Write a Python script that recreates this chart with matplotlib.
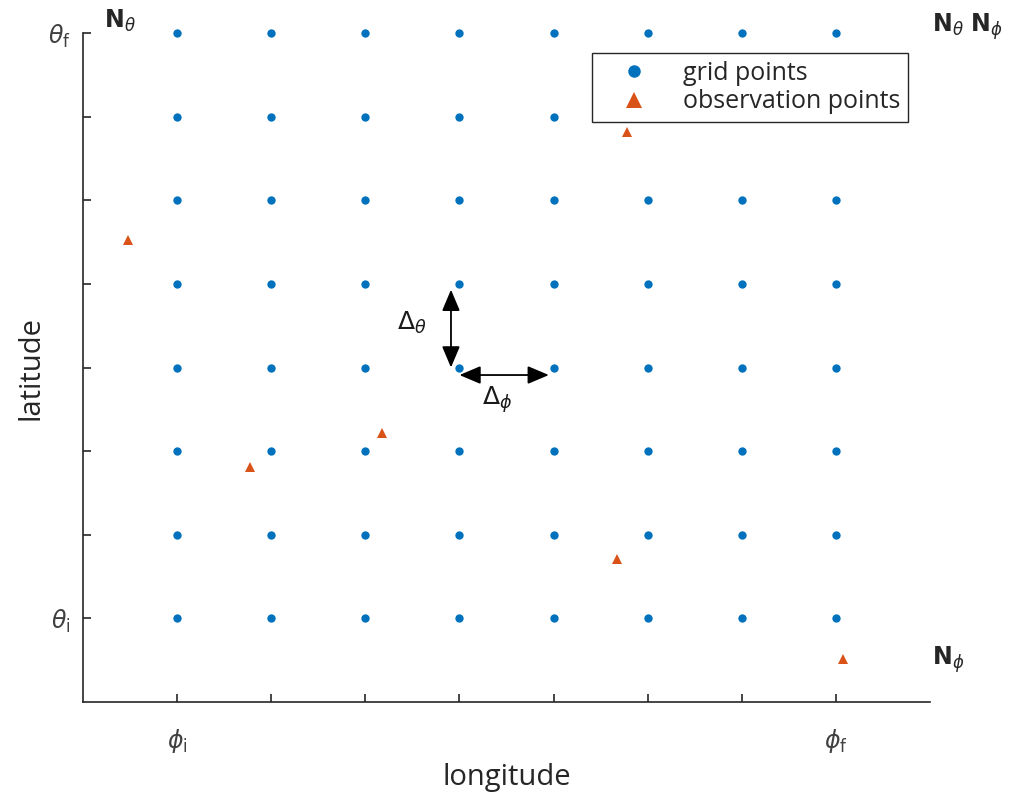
import matplotlib
matplotlib.use("Agg")
import matplotlib.pyplot as plt
import numpy as np

plt.rcParams['mathtext.fontset'] = 'dejavusans'
plt.rcParams['font.family'] = ['Open Sans', 'DejaVu Sans']

# Data
grid_lon = [1, 2, 3, 4, 5, 6, 7, 8]
grid_lat = [1, 2, 3, 4, 5, 6, 7, 8]
obs_lon = [0.48, 1.77, 3.18, 5.78, 5.67, 8.08]
obs_lat = [5.53, 2.81, 3.22, 6.82, 1.71, 0.51]
xtick_labels = [r'$\phi_\mathrm{i}$', '', '', '', '', '', '', r'$\phi_\mathrm{f}$']
ytick_labels = [r'$\theta_\mathrm{i}$', '', '', '', '', '', '', r'$\theta_\mathrm{f}$']

blue = '#0072BD'
orange = '#D95319'
axcol = '#262626'

fig = plt.figure(figsize=(10.11, 7.97), dpi=100)
ax = fig.add_axes([83/1011, 1-702/797, (930-83)/1011, (702-33)/797])

G_lon, G_lat = np.meshgrid(grid_lon, grid_lat)
ax.plot(G_lon.ravel(), G_lat.ravel(), 'o', color=blue, markersize=6,
        markeredgewidth=0, linestyle='none', label='grid points', clip_on=False)
ax.plot(obs_lon, obs_lat, '^', color=orange, markersize=7.5,
        markeredgewidth=0, linestyle='none', label='observation points', clip_on=False)

ax.set_xlim(0, 9)
ax.set_ylim(0, 8)
ax.set_xticks(grid_lon)
ax.set_xticklabels(xtick_labels)
ax.set_yticks(grid_lat)
ax.set_yticklabels(ytick_labels)
for s in ['top', 'right']:
    ax.spines[s].set_visible(False)
for s in ['left', 'bottom']:
    ax.spines[s].set_color(axcol)
    ax.spines[s].set_linewidth(1.2)
ax.tick_params(axis='both', direction='in', length=6, width=1.2, color=axcol,
               labelsize=17, labelcolor='#404040')
ax.tick_params(axis='x', pad=18)
ax.tick_params(axis='y', pad=9)

ax.set_xlabel('longitude', fontsize=21, color='#262626', labelpad=6)
ax.set_ylabel('latitude', fontsize=21, color='#262626', labelpad=2)

# arrows
astyle = '<|-|>,head_length=1.3,head_width=0.55'
ax.annotate('', xy=(3.91, 4.93), xytext=(3.91, 4.0),
            arrowprops=dict(arrowstyle=astyle, color='black', lw=1.3,
                            shrinkA=0, shrinkB=0))
ax.annotate('', xy=(4.0, 3.91), xytext=(4.95, 3.91),
            arrowprops=dict(arrowstyle=astyle, color='black', lw=1.3,
                            shrinkA=0, shrinkB=0))
ax.text(3.34, 4.45, r'$\Delta_{\theta}$', fontsize=18, color='#1a1a1a', ha='left', va='baseline')
ax.text(4.24, 3.55, r'$\Delta_{\phi}$', fontsize=18, color='#1a1a1a', ha='left', va='baseline')

# corner labels
fig.text(104/1011, 1-28/797, r'$\mathbf{N}_{\theta}$', fontsize=17, color='#262626', va='baseline')
fig.text(932/1011, 1-32/797, r'$\mathbf{N}_{\theta}\ \mathbf{N}_{\phi}$', fontsize=17, color='#262626', va='baseline')
fig.text(932/1011, 1-665/797, r'$\mathbf{N}_{\phi}$', fontsize=17, color='#262626', va='baseline')

leg = ax.legend(loc='upper right', bbox_to_anchor=(0.974, 0.970), borderaxespad=0,
                fontsize=18, frameon=True, fancybox=False, edgecolor=axcol,
                framealpha=1.0, markerscale=1.5, handletextpad=0.55, borderpad=0.3,
                labelspacing=0.15, handlelength=2.8)
leg.get_frame().set_linewidth(1.0)
for t in leg.get_texts():
    t.set_color('#262626')

fig.savefig('out.png', dpi=100)
